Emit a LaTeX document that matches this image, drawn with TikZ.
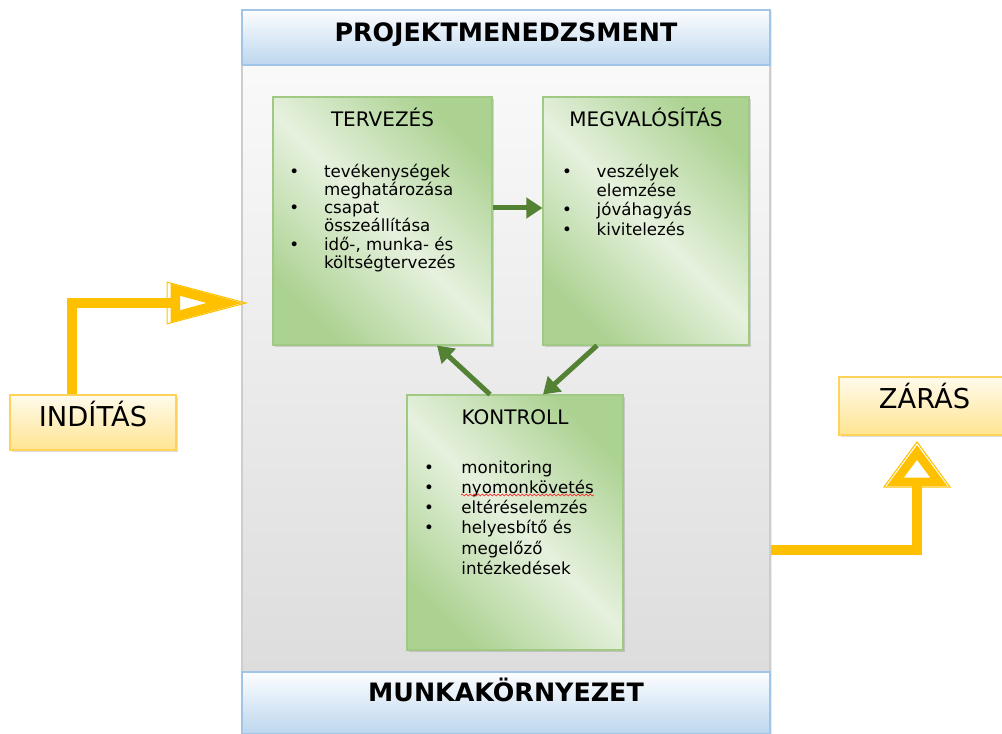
\documentclass[tikz,border=0pt]{standalone}
\usepackage{fontspec}
\setmainfont{DejaVu Sans}
\usetikzlibrary{arrows.meta,shadows,decorations.pathmorphing}
\definecolor{pmgreenlight}{RGB}{230,241,222}
\definecolor{pmgreen}{RGB}{172,210,146}
\definecolor{pmgreenline}{RGB}{160,201,131}
\definecolor{pmarrowgreen}{RGB}{84,130,53}
\definecolor{pmyellow}{RGB}{255,192,0}
\definecolor{pmyellowlight}{RGB}{255,251,236}
\definecolor{pmyellowdark}{RGB}{255,228,145}
\definecolor{pmyellowline}{RGB}{255,210,90}
\definecolor{pmbluelight}{RGB}{252,253,255}
\definecolor{pmblue}{RGB}{189,215,238}
\definecolor{pmblueline}{RGB}{160,197,230}
\definecolor{pmgraylight}{RGB}{252,252,252}
\definecolor{pmgray}{RGB}{218,218,218}
\definecolor{pmgrayline}{RGB}{205,205,205}

\begin{document}
\begin{tikzpicture}[x=0.75pt,y=-0.75pt,
  keretstilus/.style={draw=pmgrayline, line width=0.8pt, top color=pmgraylight, bottom color=pmgray,
    drop shadow={opacity=0.15, shadow xshift=1.5pt, shadow yshift=-1pt}},
  fejlec/.style={draw=pmblueline, line width=0.8pt, top color=pmbluelight, bottom color=pmblue,
    inner sep=0pt, font=\fontsize{19}{21}\selectfont\bfseries, minimum width=396pt, text height=13.8pt},
  fazis/.style={draw=pmgreenline, line width=0.8pt, top color=pmgreen, bottom color=pmgreen,
    middle color=pmgreenlight, shading angle=-45, inner sep=0pt,
    drop shadow={opacity=0.3, shadow xshift=1.2pt, shadow yshift=-1.2pt}},
  cim/.style={inner sep=0pt, font=\fontsize{15}{17}\selectfont},
  lista/.style={inner sep=0pt, font=\fontsize{12.5}{#1}\selectfont},
  sarga/.style={draw=pmyellowline, line width=0.8pt, top color=pmyellowlight, bottom color=pmyellowdark,
    inner sep=0pt, font=\fontsize{20.5}{23}\selectfont, text height=14.6pt,
    drop shadow={opacity=0.25, shadow xshift=1.2pt, shadow yshift=-1.2pt}},
  zoldnyil/.style={draw=pmarrowgreen, line width=3.75pt, -{Triangle[length=12pt,width=15pt]}},
  sargavonal/.style={draw=pmyellow, line width=7.5pt}
]
\useasboundingbox (0,0) rectangle (1002,734);
\clip (0,0) rectangle (1002,734);

% Keret es fejlecek
\node[keretstilus, minimum width=396pt, minimum height=543pt] (keret) at (506,372) {};
\node[fejlec, minimum height=41.25pt, text depth=7.4pt] (pm) at (506,37.5) {PROJEKTMENEDZSMENT};
\node[fejlec, minimum height=46.5pt, text depth=15.7pt] (munka) at (506,703) {MUNKAKÖRNYEZET};

% Fazisok
\node[fazis, minimum width=164.25pt, minimum height=186pt] (terv) at (382.5,221) {};
\node[fazis, minimum width=154.5pt, minimum height=186pt] (megv) at (646,221) {};
\node[fazis, minimum width=162pt, minimum height=191.25pt] (kontroll) at (515,522.5) {};

\node[cim, anchor=base] (tervcim) at ([yshift=-22.8pt]terv.north) {TERVEZÉS};
\node[cim, anchor=base] (megvcim) at ([yshift=-22.8pt]megv.north) {MEGVALÓSÍTÁS};
\node[cim, anchor=base] (kontrollcim) at ([yshift=-22.8pt]kontroll.north) {KONTROLL};

\node[lista=13.6pt, anchor=base west] (tervlista) at ([xshift=12.5pt,yshift=-60.5pt]terv.north west)
  {\begin{tabular}[t]{@{}p{26pt}@{}p{125pt}@{}}
   \textbullet & tevékenységek\newline meghatározása\\
   \textbullet & csapat\newline összeállítása\\
   \textbullet & idő-, munka- és\newline költségtervezés
   \end{tabular}};
\node[lista=14.3pt, anchor=base west] (megvlista) at ([xshift=14.5pt,yshift=-61pt]megv.north west)
  {\begin{tabular}[t]{@{}p{26pt}@{}p{115pt}@{}}
   \textbullet & veszélyek\newline elemzése\\
   \textbullet & jóváhagyás\\
   \textbullet & kivitelezés
   \end{tabular}};
\node[lista=15.2pt, anchor=base west] (kontrolllista) at ([xshift=13pt,yshift=-59pt]kontroll.north west)
  {\begin{tabular}[t]{@{}p{28pt}@{}p{125pt}@{}}
   \textbullet & monitoring\\
   \textbullet & nyomonkövetés\\
   \textbullet & eltéréselemzés\\
   \textbullet & helyesbítő és\newline megelőző\newline intézkedések
   \end{tabular}};
\draw[red!85, line width=0.5pt, decorate, decoration={snake, amplitude=0.7pt, segment length=3pt}]
  (461,495) -- (594,495);

% Nyilak a fazisok kozott
\draw[zoldnyil] ([yshift=9.75pt]terv.east) -- ([yshift=9.75pt]megv.west);
\draw[zoldnyil] ([xshift=-36.75pt]megv.south) -- ([xshift=21pt]kontroll.north);
\draw[zoldnyil] ([xshift=-18.75pt]kontroll.north) -- ([xshift=40.9pt]terv.south);

% Inditas es zaras
\node[sarga, minimum width=124.5pt, minimum height=41.25pt, text depth=8.9pt] (indit) at (93,422.5) {INDÍTÁS};
\node[sarga, minimum width=128.25pt, minimum height=43.5pt, text depth=10.4pt] (zaras) at (924.5,406) {ZÁRÁS};

\coordinate (inditveg) at (248,303);
\coordinate (zarasveg) at (917,441);
\draw[sargavonal, -{Triangle[open, length=61pt, width=32pt, line width=0.8pt]}]
  ([xshift=-15.75pt]indit.north) |- (inditveg);
\draw[sargavonal, shorten >=3pt, -{Triangle[length=55pt, width=27pt, line width=7pt, fill=white]}]
  ([xshift=-15.75pt]indit.north) |- (inditveg);
\draw[sargavonal, -{Triangle[open, length=35pt, width=51pt, line width=0.8pt]}]
  ([yshift=-133.5pt]keret.east) -| (zarasveg);
\draw[sargavonal, shorten >=3pt, -{Triangle[length=31pt, width=44pt, line width=6.5pt, fill=white]}]
  ([yshift=-133.5pt]keret.east) -| (zarasveg);
\end{tikzpicture}
\end{document}
